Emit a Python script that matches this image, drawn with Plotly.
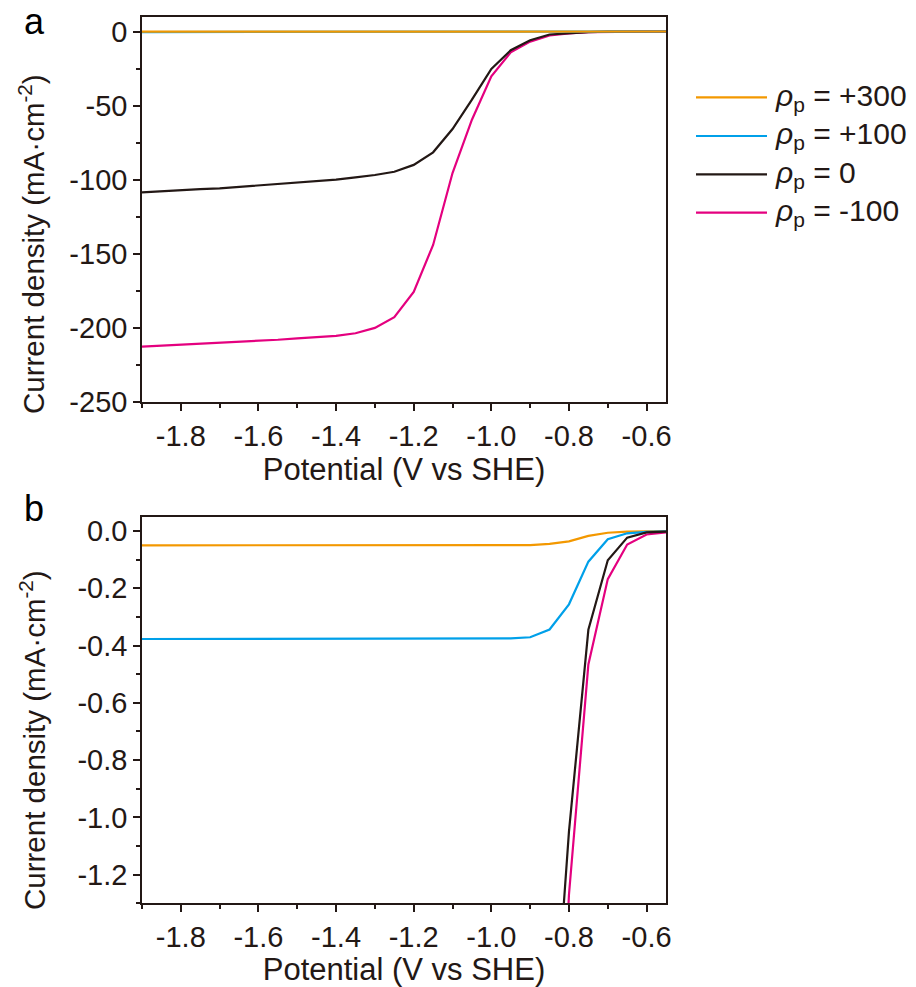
import plotly.graph_objects as go

# ---------------- data ----------------
potential = [-1.90, -1.85, -1.80, -1.75, -1.70, -1.65, -1.60, -1.55, -1.50, -1.45,
             -1.40, -1.35, -1.30, -1.25, -1.20, -1.15, -1.10, -1.05, -1.00, -0.95,
             -0.90, -0.85, -0.80, -0.75, -0.70, -0.65, -0.60, -0.55]

j_p300 = [-0.050, -0.050, -0.050, -0.050, -0.050, -0.050, -0.050, -0.050, -0.050, -0.050,
          -0.050, -0.050, -0.050, -0.050, -0.050, -0.050, -0.050, -0.050, -0.050, -0.050,
          -0.049, -0.045, -0.036, -0.017, -0.006, -0.002, -0.001, 0.000]

j_p100 = [-0.377, -0.377, -0.377, -0.377, -0.377, -0.377, -0.377, -0.377, -0.377, -0.377,
          -0.377, -0.377, -0.377, -0.377, -0.377, -0.377, -0.377, -0.377, -0.377, -0.375,
          -0.371, -0.344, -0.256, -0.107, -0.029, -0.008, -0.003, -0.001]

j_0 = [-108.5, -107.7, -107.0, -106.4, -105.8, -104.8, -103.8, -102.8, -101.8, -100.9,
       -100.0, -98.4, -96.8, -94.6, -90.0, -81.5, -65.8, -46.0, -25.2, -12.6,
       -5.9, -2.0, -1.05, -0.345, -0.102, -0.023, -0.005, -0.002]

j_m100 = [-212.6, -212.0, -211.5, -210.7, -210.0, -209.5, -209.0, -208.0, -207.0, -206.2,
          -205.4, -203.6, -200.0, -192.8, -175.7, -144.0, -95.5, -59.5, -30.2, -14.0,
          -6.8, -2.7, -1.27, -0.466, -0.168, -0.047, -0.012, -0.005]

series_labels = ["<i>ρ</i><sub>p</sub> = +300", "<i>ρ</i><sub>p</sub> = +100",
                 "<i>ρ</i><sub>p</sub> = 0", "<i>ρ</i><sub>p</sub> = -100"]
series_colors = ["#F39800", "#00A0E9", "#231815", "#E4007F"]
series_values = [j_p300, j_p100, j_0, j_m100]

x_tickvals = [-1.8, -1.6, -1.4, -1.2, -1.0, -0.8, -0.6]
x_ticktext = ["-1.8", "-1.6", "-1.4", "-1.2", "-1.0", "-0.8", "-0.6"]
ya_tickvals = [0, -50, -100, -150, -200, -250]
ya_ticktext = ["0", "-50", "-100", "-150", "-200", "-250"]
yb_tickvals = [0.0, -0.2, -0.4, -0.6, -0.8, -1.0, -1.2]
yb_ticktext = ["0.0", "-0.2", "-0.4", "-0.6", "-0.8", "-1.0", "-1.2"]

x_title = "Potential (V vs SHE)"
y_title = "Current density (mA·cm<sup>-2</sup>)"

# ---------------- figure ----------------
W, H = 916, 987
FONT = "Liberation Sans, Arial, sans-serif"
INK = "#231815"

fig = go.Figure()

# panel a: draw order magenta, black, blue, orange (orange on top)
for idx in [3, 2, 1, 0]:
    fig.add_trace(go.Scatter(x=potential, y=series_values[idx], mode="lines",
                             line=dict(color=series_colors[idx], width=2.2),
                             xaxis="x", yaxis="y", showlegend=False,
                             name=series_labels[idx]))
# panel b: orange, blue, magenta, black
for idx in [0, 1, 3, 2]:
    fig.add_trace(go.Scatter(x=potential, y=series_values[idx], mode="lines",
                             line=dict(color=series_colors[idx], width=2.2),
                             xaxis="x2", yaxis="y2", showlegend=False,
                             name=series_labels[idx]))

x0p, x1p = 142 / W, 666 / W
ya_dom = [1 - 402 / H, 1 - 16.7 / H]
yb_dom = [1 - 903.3 / H, 1 - 516.7 / H]

common_axis = dict(showline=True, linecolor=INK, linewidth=1.6, mirror=True,
                   ticks="outside", ticklen=7, tickwidth=1.5, tickcolor=INK,
                   showgrid=False, zeroline=False, automargin=False,
                   tickfont=dict(family=FONT, size=29, color=INK))

xtitle = dict(text=x_title, font=dict(family=FONT, size=31, color=INK), standoff=8)
minor_x = dict(dtick=0.1, tick0=0, ticks="outside", ticklen=4, tickwidth=1.5, tickcolor=INK)

fig.update_layout(
    width=W, height=H, autosize=False,
    margin=dict(l=0, r=0, t=0, b=0),
    paper_bgcolor="white", plot_bgcolor="white",
    showlegend=False,
    xaxis=dict(domain=[x0p, x1p], anchor="y", range=[-1.9, -0.55],
               tickvals=x_tickvals, ticktext=x_ticktext, minor=minor_x,
               title=xtitle, **common_axis),
    yaxis=dict(domain=ya_dom, anchor="x", range=[-250, 10],
               tickvals=ya_tickvals, ticktext=ya_ticktext,
               minor=dict(dtick=25, tick0=0, ticks="outside", ticklen=4, tickwidth=1.5, tickcolor=INK),
               **common_axis),
    xaxis2=dict(domain=[x0p, x1p], anchor="y2", range=[-1.9, -0.55],
                tickvals=x_tickvals, ticktext=x_ticktext, minor=minor_x,
                title=xtitle, **common_axis),
    yaxis2=dict(domain=yb_dom, anchor="x2", range=[-1.3, 0.05],
                tickvals=yb_tickvals, ticktext=yb_ticktext,
                minor=dict(dtick=0.1, tick0=0, ticks="outside", ticklen=4, tickwidth=1.5, tickcolor=INK),
                **common_axis),
)

# y-axis titles (rotated text)
for yc in [244, 740]:
    fig.add_annotation(text=y_title, xref="paper", yref="paper", x=32 / W, y=1 - yc / H,
                       xanchor="center", yanchor="middle", textangle=-90, showarrow=False,
                       font=dict(family=FONT, size=29.5, color=INK))

# manual legend (long line samples)
leg_y = [97.3, 136.0, 174.3, 212.7]
for lbl, col, yy in zip(series_labels, series_colors, leg_y):
    fig.add_shape(type="line", xref="paper", yref="paper",
                  x0=696 / W, x1=767 / W, y0=1 - yy / H, y1=1 - yy / H,
                  line=dict(color=col, width=2.2))
    fig.add_annotation(text=lbl, xref="paper", yref="paper", x=773 / W, y=1 - yy / H,
                       xanchor="left", yanchor="middle", showarrow=False,
                       font=dict(family=FONT, size=30, color=INK))

# panel letters
fig.add_annotation(text="a", xref="paper", yref="paper", x=22 / W, y=1 - 22 / H,
                   xanchor="left", yanchor="middle", showarrow=False,
                   font=dict(family=FONT, size=36, color="black"))
fig.add_annotation(text="b", xref="paper", yref="paper", x=22 / W, y=1 - 509 / H,
                   xanchor="left", yanchor="middle", showarrow=False,
                   font=dict(family=FONT, size=36, color="black"))

fig.write_html("out.html")
